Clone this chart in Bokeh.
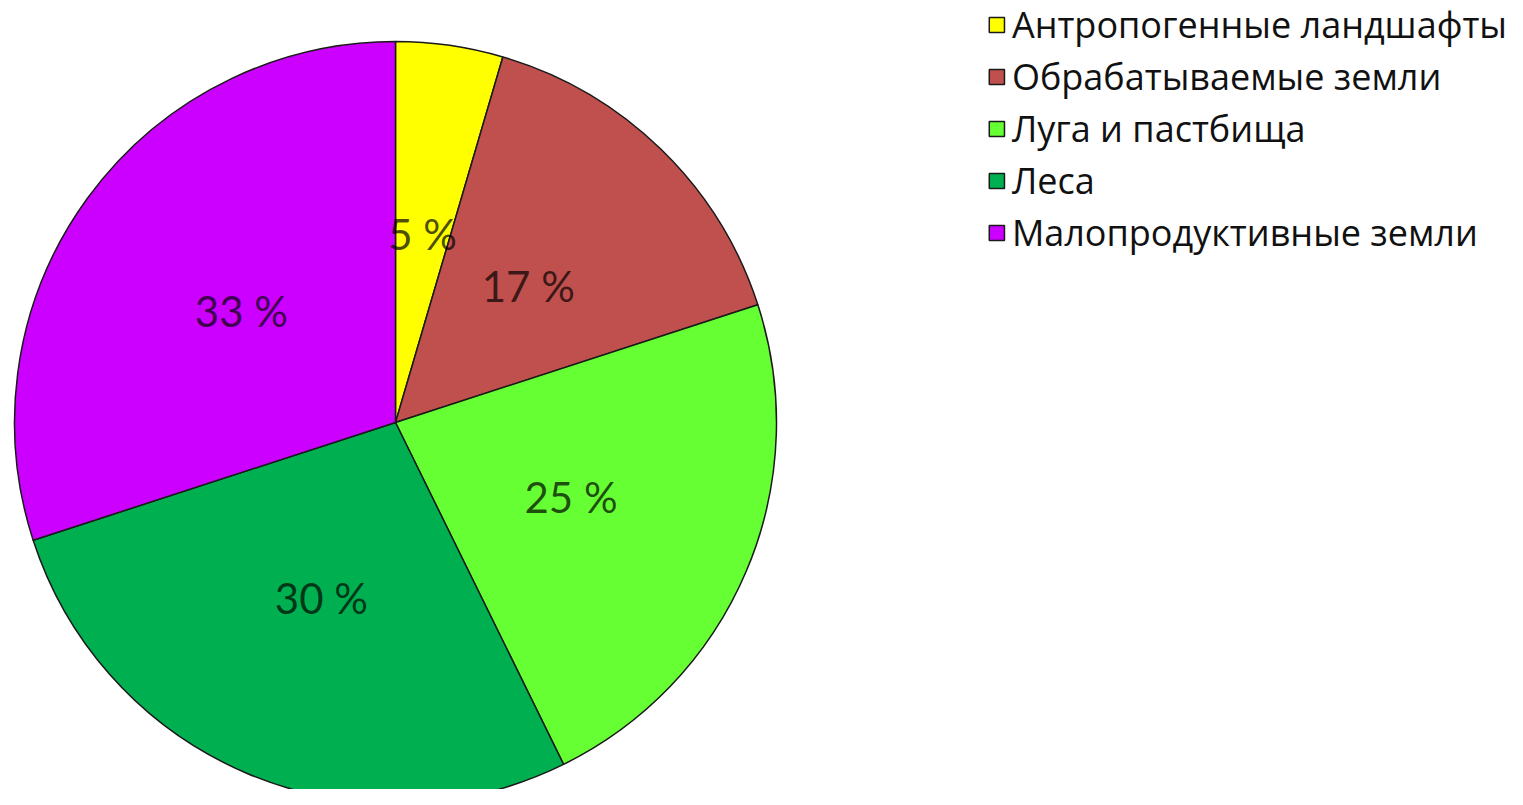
import math
from bokeh.plotting import figure
from bokeh.models import ColumnDataSource, Legend, LegendItem
from bokeh.core.properties import value
from bokeh.embed import file_html
from bokeh.resources import INLINE

categories = ["Антропогенные ландшафты", "Обрабатываемые земли", "Луга и пастбища",
              "Леса", "Малопродуктивные земли"]
values = [5, 17, 25, 30, 33]
labels = ["5 %", "17 %", "25 %", "30 %", "33 %"]
colors = ["#FFFF00", "#C0504D", "#66FF33", "#00B050", "#CC00FF"]

W, H = 1507, 789
CX, CY, R = 395, H - 422, 381

total = float(sum(values))
starts, ends, lx, ly = [], [], [], []
a = math.pi / 2
for v in values:
    span = 2 * math.pi * v / total
    starts.append(a - span)
    ends.append(a)
    mid = a - span / 2
    lx.append(CX + 0.5 * R * math.cos(mid))
    ly.append(CY + 0.5 * R * math.sin(mid))
    a -= span

src = ColumnDataSource(dict(cat=categories, start=starts, end=ends, color=colors,
                            lx=lx, ly=ly, lab=labels,
                            x=[CX] * 5, y=[CY] * 5))

p = figure(width=W, height=H, x_range=(0, W), y_range=(0, H),
           output_backend="svg", toolbar_location=None, min_border=0)
p.axis.visible = False
p.grid.visible = False
p.outline_line_color = None
p.background_fill_color = "white"
p.border_fill_color = "white"

w = p.wedge(x="x", y="y", radius=R, start_angle="start", end_angle="end",
            direction="anticlock", fill_color="color", line_color="#1a1a1a",
            line_width=1.5, source=src)

p.text(x="lx", y="ly", text="lab", source=src, text_align="center",
       text_baseline="middle", text_font=value("Lato"), text_font_size="42px",
       text_color="#000000", text_alpha=0.7)

items = [LegendItem(label=c, renderers=[w], index=i) for i, c in enumerate(categories)]
legend = Legend(items=items, location="top_right", margin=0, padding=2,
                label_text_font="Open Sans", label_text_font_size="36px",
                label_text_color="#111111", glyph_width=19, glyph_height=19,
                label_standoff=6, label_height=36, spacing=3,
                border_line_color=None, background_fill_alpha=0)
p.add_layout(legend)

open("out.html", "w").write(file_html(p, INLINE))
